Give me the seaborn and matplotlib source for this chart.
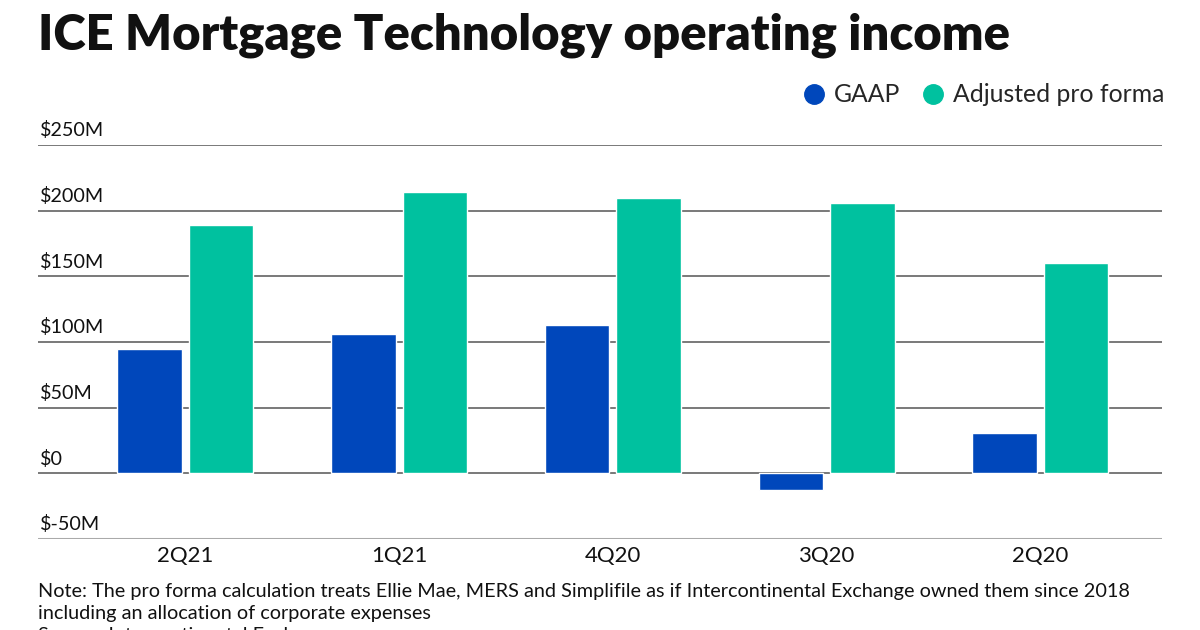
import matplotlib
matplotlib.use("Agg")
import matplotlib.pyplot as plt
import matplotlib.transforms as mtransforms
from matplotlib.lines import Line2D
import seaborn as sns
import pandas as pd

quarters = ["2Q21", "1Q21", "4Q20", "3Q20", "2Q20"]
gaap = [94.5, 106, 112.8, -12.7, 31]
adjusted = [189, 214, 210, 205.6, 160]
series_names = ["GAAP", "Adjusted pro forma"]
y_ticks = [-50, 0, 50, 100, 150, 200, 250]
y_labels = ["$-50M", "$0", "$50M", "$100M", "$150M", "$200M", "$250M"]

colors = {"GAAP": "#0047BB", "Adjusted pro forma": "#00C19F"}

df = pd.DataFrame({
    "quarter": quarters * 2,
    "value": gaap + adjusted,
    "series": [series_names[0]] * len(quarters) + [series_names[1]] * len(quarters),
})

sns.set_style("white")
plt.rcParams["font.family"] = ["Lato", "DejaVu Sans"]

fig = plt.figure(figsize=(12, 6.3), dpi=100)
ax = fig.add_axes([38 / 1200, 1 - 539 / 630, 1124 / 1200, (539 - 145) / 630])

sns.barplot(data=df, x="quarter", y="value", hue="series", order=quarters,
            hue_order=series_names, palette=colors, width=0.67, gap=0.1,
            saturation=1, legend=False, ax=ax, zorder=3)

ax.set_xlim(-0.69, 4.57)
ax.set_ylim(-50, 250)
for s in ax.spines.values():
    s.set_visible(False)
ax.set_yticks([])
ax.set_xlabel("")
ax.set_ylabel("")
ax.tick_params(axis="x", length=0, pad=5, labelsize=16, labelcolor="#111111")

trans = mtransforms.blended_transform_factory(ax.transAxes, ax.transData)
for v, lab in zip(y_ticks, y_labels):
    if v == -50:
        ax.axhline(v, color="#aaaaaa", lw=2.2, zorder=2)
    else:
        ax.axhline(v, color="#555555", lw=1.1, zorder=2)
    ax.annotate(lab, xy=(0.002, v), xycoords=trans, xytext=(0, 4),
                textcoords="offset points", ha="left", va="bottom",
                fontsize=14.2, color="#111111")

fig.text(38 / 1200, 1 - 35 / 630, "ICE Mortgage Technology operating income",
         fontsize=35.3, fontweight="heavy", ha="left", va="center", color="#111111")

handles = [Line2D([], [], marker="o", linestyle="", markersize=14,
                  markerfacecolor=colors[n], markeredgecolor=colors[n]) for n in series_names]
fig.legend(handles, series_names, loc="center right", bbox_to_anchor=(1174 / 1200, 1 - 95 / 630),
           ncol=2, frameon=False, fontsize=17.8, handletextpad=0.3, columnspacing=0.82,
           handlelength=1.0, borderaxespad=0)

note_size = 14.35
fig.text(38 / 1200, 1 - 592 / 630,
         "Note: The pro forma calculation treats Ellie Mae, MERS and Simplifile as if Intercontinental Exchange owned them since 2018",
         fontsize=note_size, ha="left", va="center", color="#111111")
fig.text(38 / 1200, 1 - 614 / 630, "including an allocation of corporate expenses",
         fontsize=note_size, ha="left", va="center", color="#111111")
fig.text(38 / 1200, 1 - 636 / 630, "Source: Intercontinental Exchange",
         fontsize=note_size, ha="left", va="center", color="#111111")

fig.savefig("out.png", dpi=100)
